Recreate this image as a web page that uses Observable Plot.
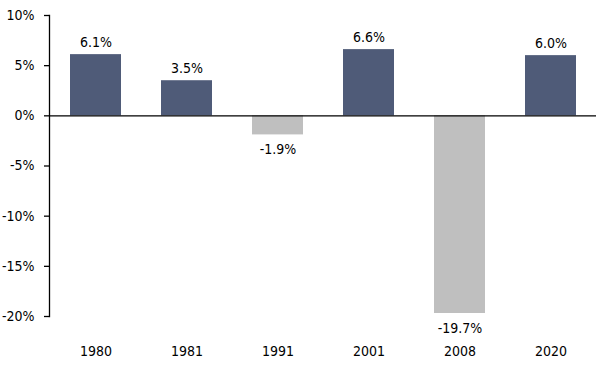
<!DOCTYPE html>
<html><head><meta charset="utf-8">
<script src="https://cdn.jsdelivr.net/npm/d3@7"></script>
<script src="https://cdn.jsdelivr.net/npm/@observablehq/plot@0.6"></script>
<style>body{margin:0;background:#fff}</style>
</head><body><div id="chart"></div>
<script>
const years = ["1980","1981","1991","2001","2008","2020"];
const values = [6.1, 3.5, -1.9, 6.6, -19.7, 6.0];
const yTicks = [10, 5, 0, -5, -10, -15, -20];

const data = years.map((y, i) => ({year: y, value: values[i]}));
const pos = data.filter(d => d.value >= 0);
const neg = data.filter(d => d.value < 0);
const font = "Tahoma, 'DejaVu Sans Condensed', 'DejaVu Sans', sans-serif";
const fmt = d => d.value.toFixed(1) + "%";

const chart = Plot.plot({
  width: 605, height: 372,
  marginTop: 15, marginBottom: 56, marginLeft: 49, marginRight: 9,
  style: {fontFamily: font, fontSize: "14px", color: "#000", background: "#fff"},
  x: {domain: years, paddingInner: 0.44, paddingOuter: 0.22, label: null},
  y: {domain: [-20, 10], label: null},
  marks: [
    Plot.barY(data, {x: "year", y: "value", fill: d => d.value >= 0 ? "#4F5B78" : "#BFBFBF"}),
    Plot.ruleY([0], {stroke: "#000", strokeWidth: 1.3}),
    Plot.axisY({ticks: yTicks, tickFormat: d => d + "%", tickSize: 5, tickPadding: 10, fontSize: 14, stroke: "#000", strokeWidth: 1.3}),
    Plot.frame({anchor: "left", stroke: "#000", strokeWidth: 1.3}),
    Plot.axisX({tickSize: 0, tickPadding: 30, fontSize: 14}),
    Plot.text(pos, {x: "year", y: "value", text: fmt, dy: -12, fontSize: 14, fill: "#000"}),
    Plot.text(neg, {x: "year", y: "value", text: fmt, dy: 15, fontSize: 14, fill: "#000"})
  ]
});
document.getElementById("chart").appendChild(chart);
</script></body></html>
